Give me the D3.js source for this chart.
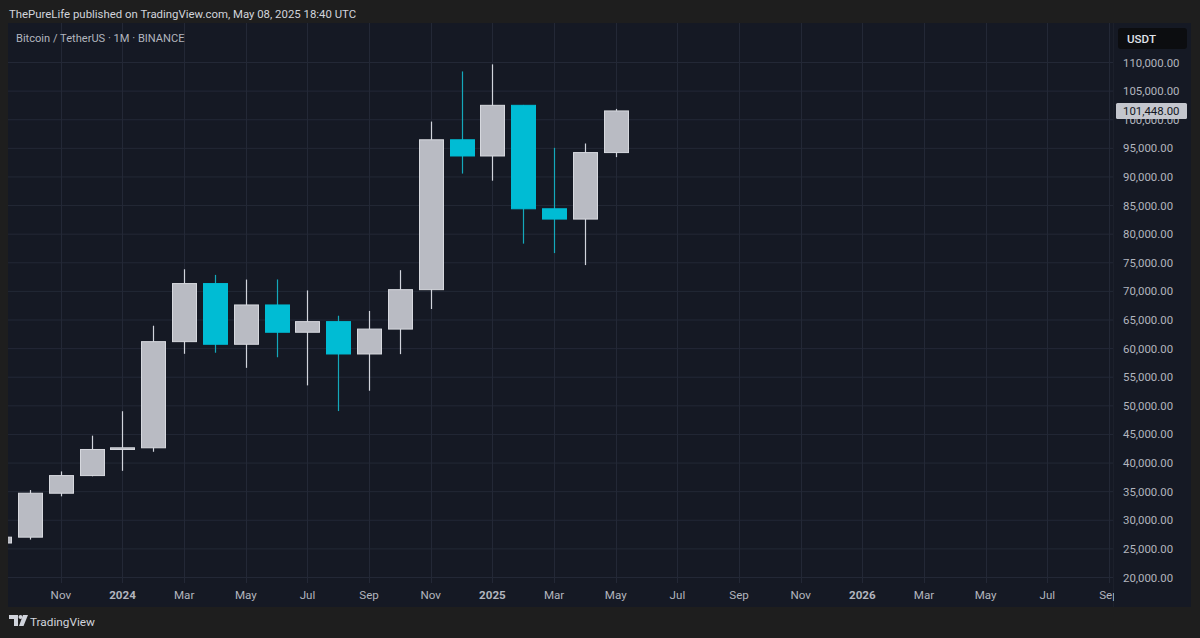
<!DOCTYPE html>
<html>
<head>
<meta charset="utf-8">
<script src="https://d3js.org/d3.v7.min.js"></script>
<style>
  body { margin: 0; background: #1e1e1e; }
  svg { display: block; font-family: Roboto, "Noto Sans", sans-serif; }
</style>
</head>
<body>
<script>
// monthly BTC/USDT candles, Sep 2023 .. May 2025 (index 0 = Sep 2023)
var months = ["2023-09","2023-10","2023-11","2023-12","2024-01","2024-02","2024-03","2024-04",
  "2024-05","2024-06","2024-07","2024-08","2024-09","2024-10","2024-11","2024-12",
  "2025-01","2025-02","2025-03","2025-04","2025-05"];
var opens  = [25940, 26962, 34640, 37724, 42284, 42580, 61131, 71280, 60672, 67540, 62772,
  64628, 58974, 63327, 70216, 96408, 93576, 102429, 84350, 82550, 94172];
var highs  = [27488, 35198, 38450, 44700, 48969, 63913, 73777, 72797, 71979, 71997, 70080,
  65660, 66498, 73620, 99588, 108353, 109588, 102500, 95000, 95758, 101800];
var lows   = [24901, 26538, 34097, 37600, 38555, 41884, 59005, 59191, 56552, 58402, 53485,
  49000, 52550, 58946, 66835, 90500, 89256, 78258, 76606, 74508, 93377];
var closes = [26962, 34640, 37724, 42284, 42580, 61130, 71280, 60672, 67540, 62772, 64628,
  58974, 63327, 70215, 96407, 93576, 102429, 84350, 82550, 94172, 101448];

var priceTicks = d3.range(20000, 110001, 5000);
// time axis labels every 2 months, index counted from Sep 2023
var timeTickIdx = [2,4,6,8,10,12,14,16,18,20,22,24,26,28,30,32,34,36];
var timeTickLabels = ["Nov","2024","Mar","May","Jul","Sep","Nov","2025","Mar","May","Jul","Sep",
  "Nov","2026","Mar","May","Jul","Sep"];
var lastPrice = 101448;

var W = 1200, H = 638;
var panel = {x: 8, y: 23, w: 1183, h: 584};
var plotRight = 1113, plotBottom = 583;

var svg = d3.select("body").append("svg").attr("width", W).attr("height", H);

svg.append("rect").attr("width", W).attr("height", H).attr("fill", "#1e1e1e");
svg.append("rect").attr("x", panel.x).attr("y", panel.y).attr("width", panel.w).attr("height", panel.h)
  .attr("fill", "#151924");

var x = d3.scaleLinear().domain([1, 36]).range([30, 1109]);
var y = d3.scaleLinear().domain([20000, 110000]).range([577, 62]);

svg.append("clipPath").attr("id", "plot")
  .append("rect").attr("x", panel.x).attr("y", panel.y).attr("width", plotRight - panel.x).attr("height", plotBottom - panel.y);
svg.append("clipPath").attr("id", "timeaxis")
  .append("rect").attr("x", panel.x).attr("y", plotBottom).attr("width", 1114 - panel.x).attr("height", 30);

var plot = svg.append("g").attr("clip-path", "url(#plot)");

// grid
plot.selectAll(".hg").data(priceTicks).enter().append("line")
  .attr("x1", panel.x).attr("x2", plotRight)
  .attr("y1", d => y(d) + 0.5).attr("y2", d => y(d) + 0.5)
  .attr("stroke", "#232836").attr("stroke-width", 1);
plot.selectAll(".vg").data(timeTickIdx).enter().append("line")
  .attr("x1", d => Math.round(x(d)) + 0.5).attr("x2", d => Math.round(x(d)) + 0.5)
  .attr("y1", panel.y).attr("y2", plotBottom)
  .attr("stroke", "#232836").attr("stroke-width", 1);

// candles
var bw = 24;
var upCol = "#b9bbc3", upEdge = "#d6d8de", upWick = "#d1d4dc";
var dnCol = "#00bcd4", dnWick = "#14a8bb";
var candles = plot.selectAll(".c").data(months).enter().append("g");
candles.append("line")
  .attr("x1", (d, i) => Math.round(x(i)) + 0.5).attr("x2", (d, i) => Math.round(x(i)) + 0.5)
  .attr("y1", (d, i) => y(highs[i])).attr("y2", (d, i) => y(lows[i]))
  .attr("stroke", (d, i) => closes[i] >= opens[i] ? upWick : dnWick).attr("stroke-width", 1.2);
candles.append("rect")
  .attr("x", (d, i) => Math.round(x(i)) - bw / 2 + 0.5)
  .attr("width", bw)
  .attr("y", (d, i) => y(Math.max(opens[i], closes[i])))
  .attr("height", (d, i) => Math.max(1.5, Math.abs(y(opens[i]) - y(closes[i]))))
  .attr("fill", (d, i) => closes[i] >= opens[i] ? upCol : dnCol)
  .attr("stroke", (d, i) => closes[i] >= opens[i] ? upEdge : dnCol)
  .attr("stroke-width", 1);

// separator between plot and price scale
svg.append("line").attr("x1", plotRight + 0.5).attr("x2", plotRight + 0.5)
  .attr("y1", panel.y).attr("y2", panel.y + panel.h).attr("stroke", "#1c202b");

// price axis (left aligned like TradingView)
var fmt = d3.format(",.2f");
svg.append("g").selectAll("text").data(priceTicks).enter().append("text")
  .attr("x", 1123).attr("y", d => y(d) + 4.5)
  .attr("fill", "#b2b5be").attr("font-size", 11.4)
  .text(d => fmt(d));

// last price label
svg.append("rect").attr("x", 1116).attr("y", y(lastPrice) - 8).attr("width", 71).attr("height", 16)
  .attr("rx", 1.5).attr("fill", "#c4c6cd");
svg.append("text").attr("x", 1123).attr("y", y(lastPrice) + 4.5)
  .attr("fill", "#131722").attr("font-size", 11.4).text(fmt(lastPrice));

// currency box
svg.append("rect").attr("x", 1118).attr("y", 28).attr("width", 69).attr("height", 21)
  .attr("rx", 3).attr("fill", "#0c0d10");
svg.append("text").attr("x", 1127).attr("y", 43).attr("fill", "#e0e3eb").attr("font-size", 11.6)
  .attr("font-weight", 500).text("USDT");

// time axis
svg.append("g").attr("clip-path", "url(#timeaxis)").selectAll("text").data(timeTickIdx).enter().append("text")
  .attr("x", d => x(d)).attr("y", 599).attr("text-anchor", "middle")
  .attr("fill", "#b2b5be").attr("font-size", 11.6)
  .attr("font-weight", (d, i) => /^\d+$/.test(timeTickLabels[i]) ? 700 : 400)
  .text((d, i) => timeTickLabels[i]);

// titles
svg.append("text").attr("x", 9).attr("y", 18).attr("fill", "#d1d4dc").attr("font-size", 11.4)
  .text("ThePureLife published on TradingView.com, May 08, 2025 18:40 UTC");
svg.append("text").attr("x", 16).attr("y", 42).attr("fill", "#b2b5be").attr("font-size", 11.1)
  .text("Bitcoin / TetherUS \u00b7 1M \u00b7 BINANCE");

// footer logo
var logo = svg.append("g").attr("transform", "translate(9,615)").attr("fill", "#d1d4dc");
logo.append("path").attr("d", "M0 0 H9 V11 H5 V4 H0 Z");
logo.append("circle").attr("cx", 11.5).attr("cy", 2).attr("r", 2);
logo.append("path").attr("d", "M14 0 H19 L14.5 11 H10 Z");
svg.append("text").attr("x", 30).attr("y", 626).attr("fill", "#d1d4dc").attr("font-size", 11.8)
  .text("TradingView");
</script>
</body>
</html>
